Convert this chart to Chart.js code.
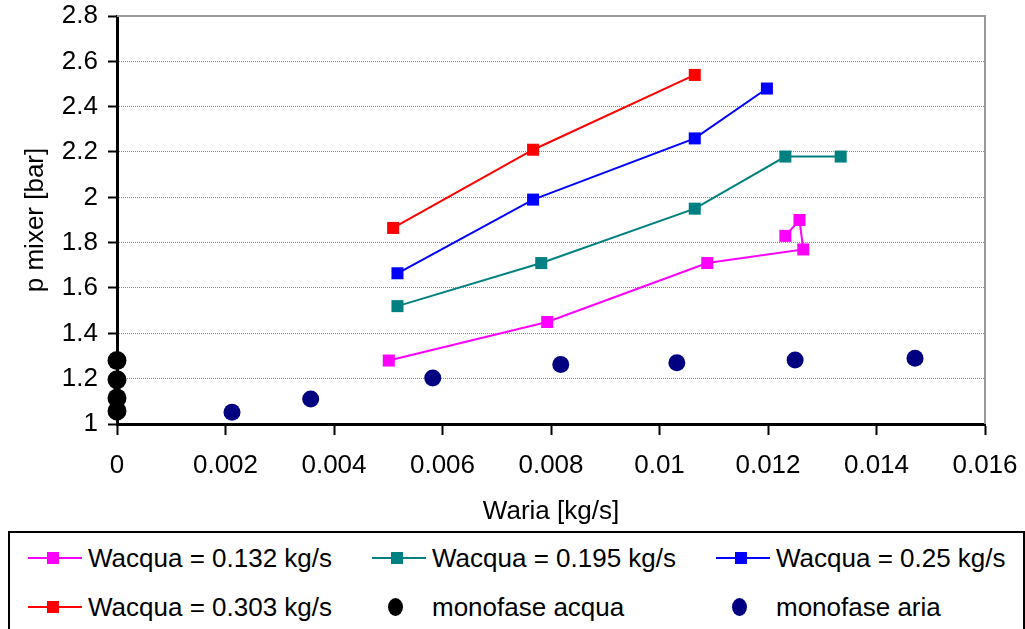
<!DOCTYPE html>
<html>
<head>
<meta charset="utf-8">
<script src="https://cdn.jsdelivr.net/npm/chart.js@4/dist/chart.umd.min.js"></script>
<style>
  body { margin: 0; background: #fff; font-family: "Liberation Sans", Arial, sans-serif; }
  #wrap { position: relative; width: 1025px; height: 629px; overflow: hidden; }
  #chart { position: absolute; left: 0; top: 0; }
  #legend { position: absolute; left: 8px; top: 531px; width: 1017px; height: 100px; border: 2px solid #000; box-sizing: border-box; }
  .item { position: absolute; height: 30px; font-size: 26px; line-height: 30px; color: #000; white-space: nowrap; }
  .mark { position: absolute; top: 0; height: 30px; }
  .mark .ln { position: absolute; top: 14px; height: 2px; }
  .mark .sq { position: absolute; top: 9px; width: 12px; height: 12px; }
  .mark .dot { position: absolute; top: 6px; width: 15px; height: 18px; border-radius: 50%; }
</style>
</head>
<body>
<div id="wrap">
  <canvas id="chart" width="1025" height="529"></canvas>
  <div id="legend"></div>
</div>
<script>
// Waria [kg/s] vs p mixer [bar]
const x132 = [0.00501, 0.00793, 0.01088, 0.01265, 0.01258, 0.01232];
const y132 = [1.28, 1.45, 1.71, 1.77, 1.90, 1.83];

const x195 = [0.00517, 0.00782, 0.01065, 0.01232, 0.01334];
const y195 = [1.52, 1.71, 1.95, 2.18, 2.18];

const x250 = [0.00517, 0.00767, 0.01065, 0.01198];
const y250 = [1.665, 1.99, 2.26, 2.48];

const x303 = [0.00509, 0.00767, 0.01065];
const y303 = [1.865, 2.21, 2.54];

const xAcqua = [0, 0, 0, 0];
const yAcqua = [1.28, 1.195, 1.115, 1.057];

const xAria = [0.00212, 0.00357, 0.00582, 0.00818, 0.01032, 0.0125, 0.01471];
const yAria = [1.052, 1.11, 1.203, 1.263, 1.27, 1.282, 1.29];

const seriesNames = ['Wacqua = 0.132 kg/s', 'Wacqua = 0.195 kg/s', 'Wacqua = 0.25 kg/s',
                     'Wacqua = 0.303 kg/s', 'monofase acqua', 'monofase aria'];

const xTicks = ['0', '0.002', '0.004', '0.006', '0.008', '0.01', '0.012', '0.014', '0.016'];
const yTicks = ['1', '1.2', '1.4', '1.6', '1.8', '2', '2.2', '2.4', '2.6', '2.8'];

const pts = (xs, ys) => xs.map((x, i) => ({x: x, y: ys[i]}));

function lineSet(label, xs, ys, color) {
    return {
        label: label,
        data: pts(xs, ys),
        showLine: true,
        borderColor: color,
        backgroundColor: color,
        borderWidth: 2,
        pointStyle: 'rect',
        pointRadius: 8.5,
        pointBorderWidth: 0,
        clip: false
    };
}

function dotSet(label, xs, ys, color, r) {
    return {
        label: label,
        data: pts(xs, ys),
        showLine: false,
        borderColor: color,
        backgroundColor: color,
        pointStyle: 'circle',
        pointRadius: r,
        pointBorderWidth: 0,
        clip: false
    };
}

const font = {family: '"Liberation Sans", Arial, sans-serif', size: 26};

// grey frame on top and right of the plot area
const frame = {
    id: 'frame',
    beforeDatasetsDraw(chart) {
        const a = chart.chartArea, ctx = chart.ctx;
        ctx.save();
        ctx.strokeStyle = '#999';
        ctx.lineWidth = 2;
        ctx.beginPath();
        ctx.moveTo(a.left, a.top);
        ctx.lineTo(a.right, a.top);
        ctx.lineTo(a.right, a.bottom);
        ctx.stroke();
        ctx.restore();
    }
};

const chart = new Chart(document.getElementById('chart'), {
    type: 'scatter',
    data: {
        datasets: [
            lineSet(seriesNames[0], x132, y132, '#ff00ff'),
            lineSet(seriesNames[1], x195, y195, '#008080'),
            lineSet(seriesNames[2], x250, y250, '#0000ff'),
            lineSet(seriesNames[3], x303, y303, '#ff0000'),
            dotSet(seriesNames[4], xAcqua, yAcqua, '#000000', 9.5),
            dotSet(seriesNames[5], xAria, yAria, '#000080', 8.5)
        ]
    },
    options: {
        responsive: false,
        animation: false,
        devicePixelRatio: 1,
        layout: {padding: {top: 16, right: 40, left: 0, bottom: 0}},
        plugins: {legend: {display: false}, tooltip: {enabled: false}},
        scales: {
            x: {
                type: 'linear',
                min: 0,
                max: 0.016,
                ticks: {
                    stepSize: 0.002,
                    color: '#000',
                    font: font,
                    padding: 15,
                    maxRotation: 0,
                    callback: v => xTicks.find(t => Math.abs(+t - v) < 1e-9)
                },
                grid: {drawOnChartArea: false, tickLength: 11, tickColor: '#000', tickWidth: 2},
                border: {color: '#000', width: 3},
                title: {display: true, text: 'Waria [kg/s]', color: '#000', font: font, padding: 2},
                afterFit(s) { s.height = 105; s.paddingLeft = 0; s.paddingRight = 0; }
            },
            y: {
                min: 1,
                max: 2.8,
                ticks: {
                    stepSize: 0.2,
                    color: '#000',
                    font: font,
                    padding: 10,
                    callback: v => yTicks.find(t => Math.abs(+t - v) < 1e-9)
                },
                grid: {color: '#888', lineWidth: 1, tickLength: 9, tickColor: '#000', tickWidth: 2},
                border: {color: '#000', width: 3, dash: [1, 1]},
                title: {display: true, text: 'p mixer [bar]', color: '#000', font: font, padding: 20},
                afterFit(s) { s.width = 117; s.paddingTop = 0; s.paddingBottom = 0; }
            }
        }
    },
    plugins: [frame]
});

// legend in three columns, built from the datasets
const legend = document.getElementById('legend');
const colX = [18, 362, 706];
const rowY = [10, 59];
chart.data.datasets.forEach((ds, i) => {
    const col = i % 3, row = Math.floor(i / 3);
    const item = document.createElement('div');
    item.className = 'item';
    item.style.left = colX[col] + 'px';
    item.style.top = rowY[row] + 'px';
    let mark = '';
    if (ds.showLine) {
        mark = '<span class="mark" style="left:0;width:54px">' +
            '<span class="ln" style="left:0;width:54px;background:' + ds.borderColor + '"></span>' +
            '<span class="sq" style="left:19px;background:' + ds.backgroundColor + '"></span></span>';
    } else {
        mark = '<span class="mark" style="left:0;width:54px">' +
            '<span class="dot" style="left:16px;background:' + ds.backgroundColor + '"></span></span>';
    }
    item.innerHTML = mark + '<span style="position:absolute;left:60px;top:0">' + ds.label + '</span>';
    legend.appendChild(item);
});
</script>
</body>
</html>
